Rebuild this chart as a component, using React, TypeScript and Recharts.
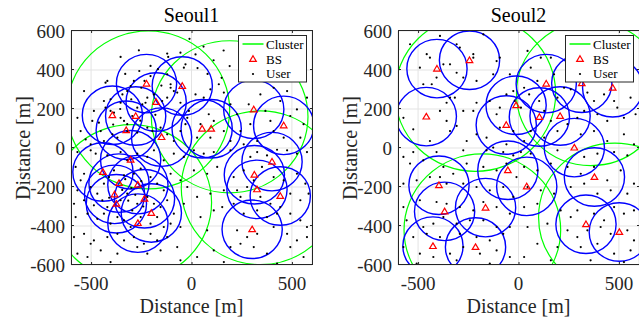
import React from 'react';
import { ScatterChart, Scatter, XAxis, YAxis, CartesianGrid } from 'recharts';

// axes
const X_TICKS = [-500, 0, 500];
const Y_TICKS = [-600, -400, -200, 0, 200, 400, 600];
const BS_RADIUS = 150; // coverage circle of each base station [m]

// Seoul1: base stations [x, y]
const SEOUL1_BS: [number, number][] = [
  [-224, 330], [-46, 318], [-176, 236], [-394, 168], [-278, 164], [-325, 91], [-149, 56],
  [53, 99], [98, 99], [310, 198], [459, 116], [-303, -60], [401, -70], [-441, -123],
  [-361, -180], [-267, -188], [-383, -238], [-234, -260], [-374, -286], [-200, -333],
  [-267, -385], [313, -137], [326, -212], [442, -246], [302, -417],
];

// Seoul1: clusters [x, y, radius]
const SEOUL1_CLUSTERS: [number, number, number][] = [
  [-215, 195, 405], [190, 160, 390], [-300, -280, 400], [343, -204, 394],
];

// Seoul1: users [x, y]
const SEOUL1_USERS: [number, number][] = [
  [-353, 467], [-262, 501], [-121, 484], [-55, 489], [-116, 467], [-167, 404], [-204, 421], [-204, 369],
  [-234, 344], [-250, 309], [-287, 344], [-303, 318], [-320, 292], [-344, 275], [-353, 232], [-419, 344],
  [-428, 335], [-403, 250], [-436, 241], [-428, 207], [-403, 190], [-386, 181], [-353, 155], [-336, 139],
  [-320, 122], [-295, 164], [-270, 207], [-245, 224], [-229, 232], [-220, 258], [-187, 275], [-146, 241],
  [-121, 258], [-104, 309], [-88, 292], [-71, 284], [-55, 232], [-104, 327], [-121, 378], [-38, 412],
  [-30, 429], [-535, 292], [-486, 190], [-494, 139], [-461, 130], [-452, 87], [-436, 36], [-394, 70],
  [-369, 53], [-320, 87], [-270, 79], [-220, 104], [-195, 87], [-154, 104], [-121, 70], [-88, 36],
  [-55, 87], [-21, 155], [-13, 190], [-30, 122], [-568, 155], [-552, 87], [-527, 44], [-502, 19],
  [20, 275], [61, 258], [94, 301], [136, 327], [161, 284], [194, 224], [86, 173], [111, 139],
  [45, 122], [28, 53], [94, 53], [161, 87], [194, 36], [244, 87], [227, 173], [285, 224],
  [343, 275], [409, 309], [476, 292], [442, 241], [368, 190], [393, 139], [492, 164], [525, 198],
  [558, 122], [542, 53], [459, 53], [409, 87], [327, 36], [575, 258], [293, 122], [260, 19],
  [20, 480], [60, 520], [110, 450], [160, 500], [30, 410], [80, 380], [190, 420], [150, 360], [-10, 560],
  [-568, -21], [-502, -12], [-477, -29], [-419, -38], [-353, -21], [-320, -63], [-270, -29], [-220, -46],
  [-187, -12], [-138, -63], [-88, -29], [-38, -46], [-577, -97], [-535, -132], [-552, -166], [-568, -217],
  [-502, -200], [-469, -234], [-436, -183], [-411, -149], [-386, -115], [-336, -140], [-287, -132], [-253, -106],
  [-204, -149], [-171, -183], [-138, -217], [-104, -132], [-55, -166], [-21, -200], [-585, -286], [-535, -268],
  [-486, -294], [-444, -268], [-419, -303], [-353, -268], [-320, -234], [-295, -320], [-270, -286], [-220, -251],
  [-187, -286], [-154, -303], [-121, -268], [-88, -337], [-38, -286], [-577, -354], [-518, -337], [-469, -363],
  [-436, -337], [-403, -388], [-369, -354], [-336, -371], [-303, -405], [-253, -354], [-204, -388], [-171, -354],
  [-138, -405], [-104, -388], [-55, -405], [-585, -457], [-535, -440], [-486, -474], [-419, -457], [-369, -440],
  [-336, -474], [-287, -457], [-237, -491], [-204, -440], [-171, -474], [-121, -457], [-71, -508], [-568, -542],
  [-518, -559], [-452, -525], [-369, -542], [-270, -508], [-220, -542], [-154, -525], [-55, -576], [-502, -491],
  [-403, -585],
  [-330, -160], [-300, -205], [-250, -170], [-410, -255], [-345, -215], [-280, -240], [-240, -300], [-315, -270],
  [-390, 120], [-355, 200], [-300, 250], [-255, 140], [-180, 170], [-150, 320], [-260, 395], [-330, 380],
  [12, -12], [61, -29], [111, -21], [194, -12], [293, -46], [327, -21], [376, -38], [426, -9],
  [476, -12], [525, -29], [575, -21], [12, -115], [78, -132], [128, -97], [210, -149], [260, -115],
  [310, -166], [351, -97], [409, -149], [459, -166], [525, -132], [567, -183], [28, -251], [94, -234],
  [161, -217], [227, -217], [244, -251], [277, -200], [343, -251], [393, -286], [442, -303], [492, -234],
  [542, -268], [583, -234], [45, -354], [111, -320], [153, -303], [210, -286], [260, -337], [327, -320],
  [376, -354], [426, -337], [492, -337], [542, -371], [575, -405], [78, -422], [227, -422], [277, -457],
  [327, -440], [409, -405], [476, -440], [525, -474], [575, -457], [111, -525], [194, -508], [244, -491],
  [310, -508], [376, -542], [492, -508], [558, -559], [28, -559], [161, -585], [426, -593],
];

// Seoul2: base stations [x, y]
const SEOUL2_BS: [number, number][] = [
  [-406, 407], [-244, 450], [-459, 161], [-61, 118], [-12, 219], [104, 159], [207, 164],
  [138, 330], [315, 332], [469, 309], [278, 2], [-53, -114], [-396, -191], [41, -197],
  [378, -149], [-368, -325], [-164, -306], [-426, -503], [-214, -508], [336, -391], [502, -431],
];

// Seoul2: clusters [x, y, radius]
const SEOUL2_CLUSTERS: [number, number, number][] = [
  [-215, 280, 400], [-180, -420, 390], [360, 280, 370], [480, -355, 380],
];

// Seoul2: users [x, y]
const SEOUL2_USERS: [number, number][] = [
  [-540, 532], [-457, 481], [-441, 463], [-391, 575], [-308, 532], [-292, 515], [-225, 463], [-225, 481],
  [-175, 583], [-109, 446], [-341, 429], [-374, 429], [-491, 412], [-474, 327], [-432, 327], [-408, 361],
  [-308, 386], [-275, 361], [-209, 344], [-126, 378], [-43, 378], [-93, 463], [-26, 292], [-60, 275],
  [-18, 241], [-341, 258], [-358, 232], [-317, 258], [-209, 232], [-109, 173], [-93, 207], [-143, 241],
  [-225, 190], [-275, 190], [-391, 190], [-358, 139], [-308, 113], [-341, 87], [-524, 96], [-573, 155],
  [-441, 36], [-258, 36], [-209, 70], [-159, 53], [-126, 2], [-60, 19], [-26, 87], [-93, 104],
  [45, 498], [111, 463], [61, 412], [161, 463], [177, 378], [94, 344], [28, 309], [12, 207],
  [53, 275], [103, 241], [128, 190], [194, 258], [227, 309], [260, 301], [343, 284], [376, 241],
  [426, 275], [476, 241], [558, 258], [583, 173], [525, 155], [492, 207], [442, 139], [393, 173],
  [327, 190], [293, 155], [244, 122], [194, 87], [128, 53], [61, 87], [28, 36], [310, 70],
  [376, 87], [442, 36], [525, 70], [575, 19], [161, 139],
  [-573, -46], [-524, -21], [-408, -21], [-275, -12], [-159, -12], [-76, -21], [-26, -38], [-540, -80],
  [-474, -63], [-374, -97], [-325, -132], [-258, -80], [-175, -97], [-109, -115], [-60, -80], [-10, -149],
  [-573, -183], [-507, -166], [-441, -149], [-391, -149], [-358, -183], [-275, -183], [-209, -200], [-143, -217],
  [-76, -200], [-26, -251], [-573, -303], [-491, -268], [-408, -277], [-358, -286], [-292, -303], [-225, -320],
  [-175, -277], [-109, -303], [-43, -337], [-557, -371], [-474, -405], [-424, -388], [-374, -354], [-308, -388],
  [-242, -371], [-175, -371], [-109, -405], [-43, -405], [-524, -457], [-457, -440], [-391, -457], [-292, -440],
  [-209, -457], [-143, -474], [-76, -440], [-573, -508], [-491, -542], [-424, -559], [-341, -542], [-275, -508],
  [-192, -542], [-109, -525], [-43, -559], [-507, -593], [-308, -576], [-143, -593],
  [12, -21], [61, -29], [194, -12], [327, -46], [393, -29], [476, -21], [542, -38], [28, -97],
  [94, -115], [161, -80], [244, -97], [310, -132], [376, -97], [442, -166], [509, -115], [575, -183],
  [45, -200], [111, -217], [177, -234], [260, -200], [327, -183], [393, -234], [459, -217], [542, -234],
  [28, -303], [94, -286], [210, -320], [260, -354], [293, -320], [376, -337], [426, -371], [476, -303],
  [525, -337], [575, -320], [45, -405], [144, -388], [244, -422], [293, -457], [343, -422], [409, -405],
  [459, -440], [542, -422], [575, -474], [94, -491], [194, -508], [310, -508], [393, -491], [476, -542],
  [558, -525], [28, -559], [161, -576], [359, -576], [525, -585],
];

const FONT = "'Liberation Serif', 'Times New Roman', Times, serif";
const AXIS_COLOR = '#262626';
const BLUE = '#0000ff';
const GREEN = '#00ff00';
const RED = '#ff0000';

// plot area in px, used to turn a radius in metres into px (axes are not equal)
const PLOT_W = 241;
const PLOT_H = 234;
const SPAN = 1200;
const Y_AXIS_W = 71;
const X_AXIS_H = 57;
const TOP = 31;
const TICK_LEN = 2.5;

const ringShape = (stroke: string, strokeWidth: number) => (props: any) => {
  const { cx, cy, payload } = props;
  if (cx == null || cy == null) return <g />;
  return (
    <ellipse
      cx={cx}
      cy={cy}
      rx={(payload.r * PLOT_W) / SPAN}
      ry={(payload.r * PLOT_H) / SPAN}
      fill="none"
      stroke={stroke}
      strokeWidth={strokeWidth}
    />
  );
};

const triangleShape = (props: any) => {
  const { cx, cy } = props;
  if (cx == null || cy == null) return <g />;
  return (
    <path
      d={`M${cx},${cy - 3.2} L${cx + 3.3},${cy + 2.4} L${cx - 3.3},${cy + 2.4} Z`}
      fill="none"
      stroke={RED}
      strokeWidth={1.2}
    />
  );
};

const dotShape = (props: any) => {
  const { cx, cy } = props;
  if (cx == null || cy == null) return <g />;
  return <circle cx={cx} cy={cy} r={1.1} fill="#000" />;
};

const tickStyle = { fill: AXIS_COLOR, fontSize: 19, fontFamily: FONT };

function Panel({
  left,
  title,
  bs,
  clusters,
  users,
}: {
  left: number;
  title: string;
  bs: [number, number][];
  clusters: [number, number, number][];
  users: [number, number][];
}) {
  const clusterPts = clusters.map(([x, y, r]) => ({ x, y, r }));
  const bsPts = bs.map(([x, y]) => ({ x, y, r: BS_RADIUS }));
  const userPts = users.map(([x, y]) => ({ x, y }));

  const px = Y_AXIS_W; // plot left inside the panel
  const lx = px + 167.5; // legend box left
  const sx = (v: number) => px + 0.5 + ((v + 600) / SPAN) * PLOT_W;
  const sy = (v: number) => TOP - 0.5 + ((600 - v) / SPAN) * PLOT_H;

  return (
    <div style={{ position: 'absolute', left, top: 0, width: Y_AXIS_W + PLOT_W, height: 322 }}>
      <ScatterChart
        width={Y_AXIS_W + PLOT_W}
        height={TOP + PLOT_H + X_AXIS_H}
        margin={{ top: TOP, right: 0, bottom: 0, left: 0 }}
      >
        <CartesianGrid stroke="#e3e3e3" strokeWidth={1} />
        <XAxis
          type="number"
          dataKey="x"
          domain={[-600, 600]}
          ticks={X_TICKS}
          allowDataOverflow
          height={X_AXIS_H}
          axisLine={false}
          tickLine={false}
          tickSize={0}
          tickMargin={12}
          tick={tickStyle}
        />
        <YAxis
          type="number"
          dataKey="y"
          domain={[-600, 600]}
          ticks={Y_TICKS}
          allowDataOverflow
          width={Y_AXIS_W}
          axisLine={false}
          tickLine={false}
          tickSize={0}
          tickMargin={6}
          tick={tickStyle}
        />
        <Scatter data={clusterPts} shape={ringShape(GREEN, 1.2)} isAnimationActive={false} />
        <Scatter data={bsPts} shape={ringShape(BLUE, 1.4)} isAnimationActive={false} />
        <Scatter data={userPts} shape={dotShape} isAnimationActive={false} />
        <Scatter data={bsPts} shape={triangleShape} isAnimationActive={false} />
      </ScatterChart>

      <svg
        width={Y_AXIS_W + PLOT_W + 2}
        height={322}
        style={{ position: 'absolute', left: 0, top: 0, pointerEvents: 'none', overflow: 'visible' }}
      >
        <rect x={px + 0.5} y={TOP - 0.5} width={PLOT_W} height={PLOT_H} fill="none" stroke={AXIS_COLOR} strokeWidth={1} />
        {/* inward ticks on all four sides, as in the box style */}
        {X_TICKS.map((v) => (
          <g key={`xt${v}`} stroke={AXIS_COLOR} strokeWidth={1}>
            <line x1={sx(v)} x2={sx(v)} y1={TOP - 0.5 + PLOT_H} y2={TOP - 0.5 + PLOT_H - TICK_LEN} />
            <line x1={sx(v)} x2={sx(v)} y1={TOP - 0.5} y2={TOP - 0.5 + TICK_LEN} />
          </g>
        ))}
        {Y_TICKS.map((v) => (
          <g key={`yt${v}`} stroke={AXIS_COLOR} strokeWidth={1}>
            <line x1={px + 0.5} x2={px + 0.5 + TICK_LEN} y1={sy(v)} y2={sy(v)} />
            <line x1={px + 0.5 + PLOT_W} x2={px + 0.5 + PLOT_W - TICK_LEN} y1={sy(v)} y2={sy(v)} />
          </g>
        ))}
        <text x={px + PLOT_W / 2} y={22} textAnchor="middle" fontFamily={FONT} fontSize={20} fill="#000">
          {title}
        </text>
        <text x={px + PLOT_W / 2} y={313} textAnchor="middle" fontFamily={FONT} fontSize={20} fill={AXIS_COLOR}>
          Distance [m]
        </text>
        <text
          x={30}
          y={TOP + PLOT_H / 2}
          transform={`rotate(-90 30 ${TOP + PLOT_H / 2})`}
          textAnchor="middle"
          fontFamily={FONT}
          fontSize={20}
          fill={AXIS_COLOR}
        >
          Distance [m]
        </text>

        <rect x={lx} y={35.5} width={68} height={46.5} fill="#fff" stroke={AXIS_COLOR} strokeWidth={1} />
        <line x1={lx + 4} x2={lx + 25} y1={44} y2={44} stroke={GREEN} strokeWidth={1.5} />
        <path
          d={`M${lx + 14.5},${59 - 3.2} L${lx + 17.8},${59 + 2.4} L${lx + 11.2},${59 + 2.4} Z`}
          fill="none"
          stroke={RED}
          strokeWidth={1.2}
        />
        <circle cx={lx + 14.5} cy={74} r={1.1} fill="#000" />
        <text x={lx + 27.5} y={48.5} fontFamily={FONT} fontSize={13} fill="#000">Cluster</text>
        <text x={lx + 27.5} y={63.5} fontFamily={FONT} fontSize={13} fill="#000">BS</text>
        <text x={lx + 27.5} y={78} fontFamily={FONT} fontSize={13} fill="#000">User</text>
      </svg>
    </div>
  );
}

export default function App() {
  return (
    <div
      style={{
        position: 'absolute',
        left: 0,
        top: 0,
        width: 639,
        height: 322,
        overflow: 'hidden',
        background: '#fff',
      }}
    >
      <Panel left={0} title="Seoul1" bs={SEOUL1_BS} clusters={SEOUL1_CLUSTERS} users={SEOUL1_USERS} />
      <Panel left={327} title="Seoul2" bs={SEOUL2_BS} clusters={SEOUL2_CLUSTERS} users={SEOUL2_USERS} />
    </div>
  );
}
